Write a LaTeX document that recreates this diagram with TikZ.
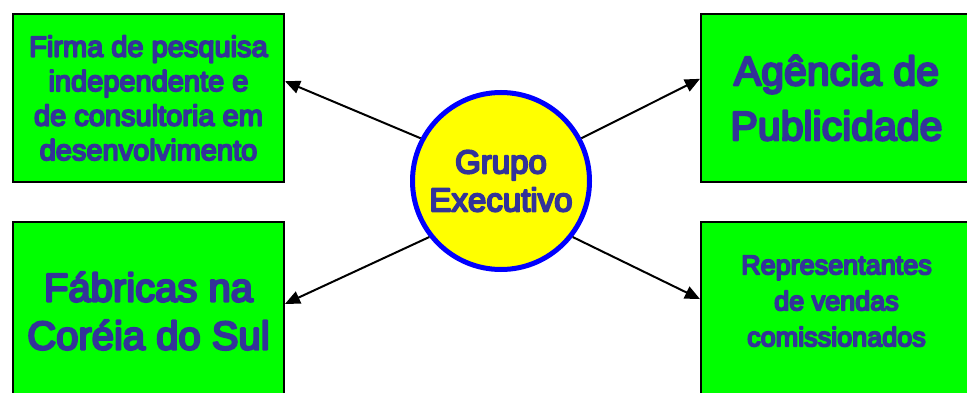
\documentclass[tikz,border=0pt]{standalone}
\usepackage{fontspec}
\usetikzlibrary{arrows.meta}
\setmainfont{Liberation Sans}
% outlined text, fill and stroke
\newcommand\strokedtext[1]{\special{pdf:literal direct 2 Tr 1 j #1 w}}
\definecolor{boxgreen}{RGB}{0,255,0}
\definecolor{textblue}{RGB}{51,51,153}
\definecolor{ringblue}{RGB}{0,0,255}
\definecolor{centeryellow}{RGB}{255,255,0}
\begin{document}
\begin{tikzpicture}[x=1pt, y=1pt,
		box/.style={draw=black, line width=2pt, fill=boxgreen, minimum width=271pt, inner sep=0pt, align=center, text=textblue},
		link/.style={-{Triangle[length=15pt, width=13pt]}, line width=2pt}]
		\clip (0,0) rectangle (967,392);
		
		% Boxes
		\node[box, minimum height=168pt, font=\fontsize{29}{34.5}\selectfont] (firma) at (148.5,294) {\strokedtext{1.8}Firma de pesquisa\\independente e\\de consultoria em\\desenvolvimento};
		\node[box, minimum height=178pt, font=\fontsize{40}{48}\selectfont] (fabricas) at (148.5,81) {\strokedtext{2.3}Fábricas na\\Coréia do Sul};
		\node[box, minimum height=168pt, font=\fontsize{41}{55}\selectfont] (agencia) at (836.5,294) {\strokedtext{2.3}Agência de\\Publicidade};
		\node[box, minimum height=178pt, text depth=20pt, font=\fontsize{27}{36}\selectfont] (vendas) at (836.5,81) {\strokedtext{1.8}Representantes\\de vendas\\comissionados};
		
		% Center
		\node[circle, draw=ringblue, line width=5pt, fill=centeryellow, minimum size=177pt, inner sep=0pt, align=center, text=textblue, font=\fontsize{33}{38}\selectfont] (grupo) at (501,211) {\strokedtext{1.9}Grupo\\Executivo};
		
		% Links
		\draw[link] (grupo.152) -- (firma.7.6);
		\draw[link] (grupo.218) -- (fabricas.3.8);
		\draw[link] (grupo.28) -- (agencia.172.4);
		\draw[link] (grupo.-38) -- (vendas.175.4);
		
	\end{tikzpicture}
\end{document}
